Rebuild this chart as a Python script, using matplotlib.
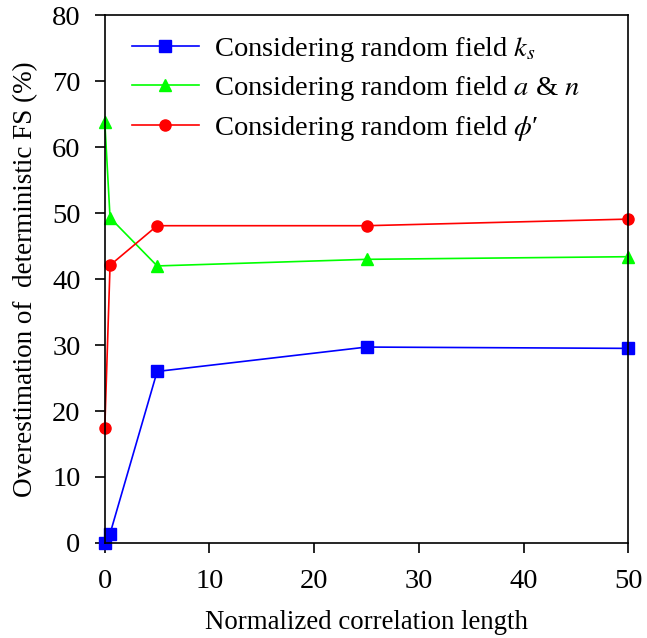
import matplotlib
matplotlib.use('Agg')
import matplotlib.pyplot as plt

# Data
corr_length = [0, 0.5, 5, 25, 50]
fs_ks = [0, 1.4, 26.0, 29.7, 29.5]
fs_an = [63.8, 49.3, 42.0, 43.0, 43.4]
fs_phi = [17.5, 42.1, 48.1, 48.1, 49.1]

labels = [r'Considering random field $k_s$',
          r'Considering random field $a$ & $n$',
          r'Considering random field $\phi$′']

plt.rcParams['font.family'] = ['Liberation Serif', 'DejaVu Serif']
plt.rcParams['mathtext.fontset'] = 'stix'
plt.rcParams['font.size'] = 19

fig = plt.figure(figsize=(6.47, 6.38), dpi=100)
ax = fig.add_axes([0.162, 0.149, 0.809, 0.827])

ax.plot(corr_length, fs_ks, color='#0000ff', marker='s', markersize=8.5, lw=1.2, label=labels[0])
ax.plot(corr_length, fs_an, color='#00ff00', marker='^', markersize=9, lw=1.2, label=labels[1])
ax.plot(corr_length, fs_phi, color='#ff0000', marker='o', markersize=8, lw=1.2, label=labels[2])

ax.set_xlim(0, 50)
ax.set_ylim(0, 80)
ax.set_xticks(range(0, 51, 10))
ax.set_yticks(range(0, 81, 10))
ax.tick_params(direction='out', length=7.5, width=1.2, labelsize=20.5)
ax.tick_params(axis='x', pad=11)
ax.tick_params(axis='y', pad=10)
for s in ax.spines.values():
    s.set_linewidth(1.2)

ax.set_xlabel('Normalized correlation length', fontsize=19.4, labelpad=12)
ax.set_ylabel('Overestimation of  deterministic FS (%)', fontsize=19.5)
ax.yaxis.set_label_coords(-0.128, 0.5)

ax.legend(loc='upper left', bbox_to_anchor=(0.03, 0.985), frameon=False,
          handlelength=2.35, handletextpad=0.55, labelspacing=0.38, fontsize=20.5,
          borderaxespad=0)

for line in ax.lines:
    line.set_clip_on(False)

fig.savefig('out.png', dpi=100)
